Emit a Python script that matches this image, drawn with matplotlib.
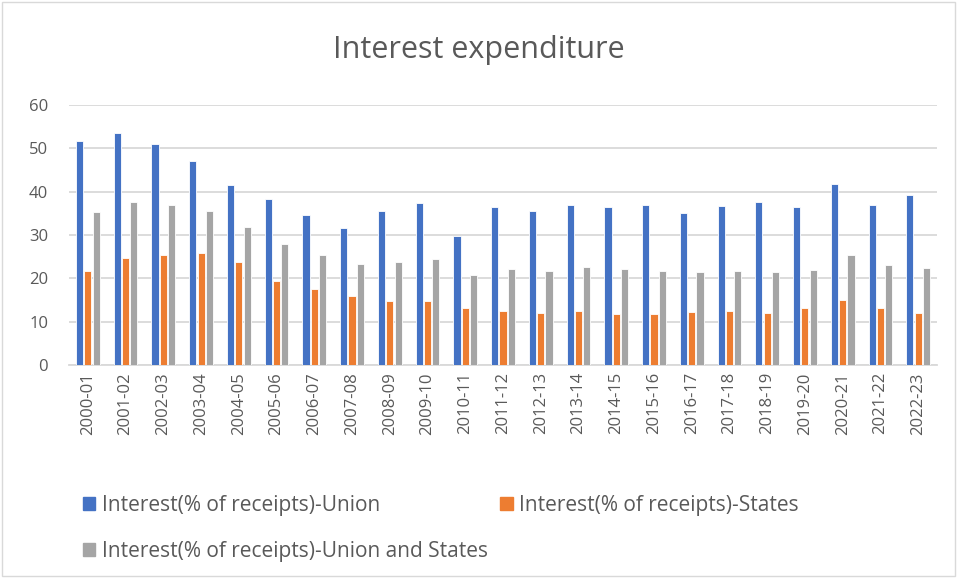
import numpy as np
import matplotlib.pyplot as plt
from matplotlib.patches import Rectangle, Patch

plt.rcParams['font.family'] = ['Open Sans', 'DejaVu Sans']

years = ['2000-01', '2001-02', '2002-03', '2003-04', '2004-05', '2005-06', '2006-07',
         '2007-08', '2008-09', '2009-10', '2010-11', '2011-12', '2012-13', '2013-14',
         '2014-15', '2015-16', '2016-17', '2017-18', '2018-19', '2019-20', '2020-21',
         '2021-22', '2022-23']
union = [51.7, 53.4, 51.0, 47.0, 41.4, 38.2, 34.6, 31.5, 35.6, 37.3, 29.8, 36.5,
         35.6, 37.0, 36.5, 37.0, 35.0, 36.7, 37.6, 36.4, 41.8, 37.0, 39.1]
states = [21.7, 24.7, 25.3, 25.9, 23.8, 19.4, 17.6, 15.9, 14.8, 14.7, 13.2, 12.4,
          12.0, 12.4, 11.7, 11.7, 12.3, 12.6, 12.0, 13.3, 15.0, 13.3, 12.0]
combined = [35.3, 37.6, 37.0, 35.6, 31.8, 27.9, 25.3, 23.3, 23.8, 24.4, 20.8, 22.1,
            21.7, 22.6, 22.1, 21.7, 21.4, 21.7, 21.4, 22.0, 25.3, 23.0, 22.4]
names = ['Interest(% of receipts)-Union', 'Interest(% of receipts)-States',
         'Interest(% of receipts)-Union and States']
colors = ['#4472C4', '#ED7D31', '#A5A5A5']

txt = '#595959'
grid = '#D9D9D9'

fig = plt.figure(figsize=(9.57, 5.78), dpi=100)
ax = fig.add_axes([69/957, 1-365.3/578, 868/957, 260.6/578])

x = np.arange(len(years))
w = 0.19
off = 0.22
for i, vals in enumerate([union, states, combined]):
    ax.bar(x + (i-1)*off, vals, width=w, color=colors[i], edgecolor='white',
           linewidth=0.6, zorder=3)

ax.set_xlim(-0.5, len(years)-0.5)
ax.set_ylim(0, 60)
ax.set_yticks(range(0, 61, 10))
ax.yaxis.grid(True, color=grid, linewidth=1.3, zorder=0)
for s in ['top', 'right', 'left']:
    ax.spines[s].set_visible(False)
ax.spines['bottom'].set_color(grid)
ax.spines['bottom'].set_linewidth(1.3)
ax.set_xticks(x)
ax.set_xticklabels(years, rotation=90)
ax.tick_params(axis='both', length=0, labelsize=12, labelcolor=txt)
ax.tick_params(axis='y', pad=15)
ax.tick_params(axis='x', pad=5)

fig.text(0.5, 1-50/578, 'Interest expenditure', ha='center', va='center',
         fontsize=22, color=txt)

handles = [Patch(color=colors[0]), Patch(color=colors[2]), Patch(color=colors[1])]
labels = [names[0], names[2], names[1]]
fig.legend(handles, labels, loc='upper left', bbox_to_anchor=(64/957, 1-476/578),
           ncol=2, frameon=False, fontsize=15, labelcolor=txt, handlelength=0.6,
           handleheight=0.6, handletextpad=0.3, columnspacing=0.6, labelspacing=1.2)

fig.patches.append(Rectangle((0.002, 0.003), 0.996, 0.994, transform=fig.transFigure,
                             fill=False, edgecolor=grid, linewidth=1))

fig.savefig('out.png', dpi=100)
